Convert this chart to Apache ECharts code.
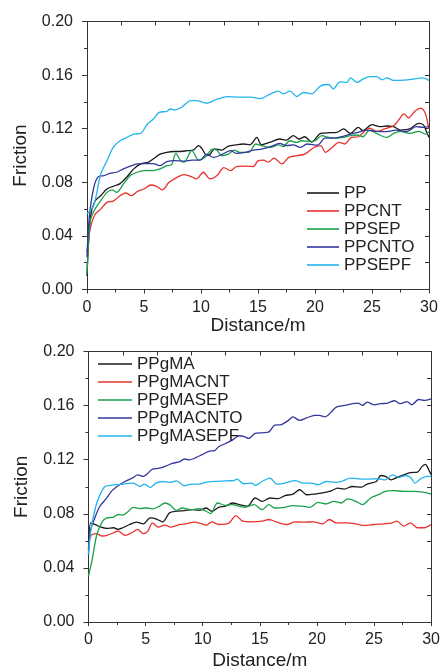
<!DOCTYPE html>
<html>
<head>
<meta charset="utf-8">
<script src="https://cdn.jsdelivr.net/npm/echarts@6/dist/echarts.min.js"></script>
<style>
  html, body { margin: 0; padding: 0; background: #fff; }
  #grafico { width: 443px; height: 671px; }
</style>
</head>
<body>
<div id="grafico"></div>
<script>
// painel de cima
var nomesCima = ['PP', 'PPCNT', 'PPSEP', 'PPCNTO', 'PPSEPF'];
var pp = [[0,0.010],[0.3,0.054],[0.7,0.066],[1.2,0.070],[1.75,0.075],[2.3,0.077],[2.9,0.079],[3.5,0.084],[4.1,0.090],[4.7,0.0937],[5.4,0.095],[5.8,0.0974],[6.4,0.101],[7,0.1024],[7.6,0.103],[8.2,0.103],[8.8,0.1036],[9.3,0.104],[9.8,0.1073],[10.1,0.105],[10.5,0.0999],[10.8,0.101],[11.2,0.105],[11.8,0.104],[12.4,0.107],[13.1,0.108],[13.7,0.1086],[14.3,0.108],[14.9,0.1135],[15.3,0.108],[16.1,0.110],[16.9,0.1123],[17.5,0.1115],[18.1,0.1148],[18.6,0.1123],[19.1,0.114],[19.7,0.110],[20.5,0.1165],[21.3,0.117],[21.9,0.1172],[22.5,0.1198],[23.1,0.1165],[23.8,0.121],[24.2,0.1185],[25,0.123],[25.7,0.1215],[26.3,0.122],[26.9,0.1215],[27.5,0.119],[28.3,0.1198],[29.1,0.124],[29.5,0.123],[29.8,0.1173],[30,0.1135]];
var ppcnt = [[0,0.028],[0.3,0.046],[0.7,0.056],[1.2,0.060],[1.75,0.065],[2.3,0.066],[2.9,0.070],[3.4,0.072],[3.9,0.070],[4.4,0.073],[5,0.075],[5.6,0.078],[6.1,0.077],[6.6,0.0743],[7.2,0.080],[7.9,0.0837],[8.5,0.0857],[9.1,0.0845],[9.6,0.0825],[10.2,0.0875],[10.8,0.0825],[11.4,0.085],[12,0.091],[12.6,0.0887],[13.1,0.0917],[14,0.092],[14.6,0.0918],[15,0.096],[15.5,0.0966],[15.9,0.095],[16.4,0.098],[17.1,0.0937],[17.7,0.0986],[18.4,0.0999],[19.1,0.101],[19.9,0.106],[20.5,0.1073],[20.9,0.1024],[21.5,0.106],[22.1,0.1098],[22.6,0.1086],[23.2,0.1135],[23.8,0.114],[24.4,0.1185],[24.8,0.1205],[25.4,0.118],[26.1,0.1198],[26.9,0.1222],[27.3,0.126],[27.8,0.131],[28.2,0.128],[28.8,0.1334],[29.3,0.1354],[29.7,0.131],[29.9,0.1235],[30,0.1198]];
var ppsep = [[0,0.0117],[0.3,0.0514],[0.7,0.060],[1.2,0.0663],[1.75,0.0725],[2.2,0.0743],[2.6,0.0725],[3.2,0.0788],[3.8,0.085],[4.4,0.0875],[5,0.0887],[5.8,0.0887],[6.4,0.090],[7,0.0924],[7.4,0.093],[7.8,0.1016],[8.2,0.0962],[8.5,0.095],[9.2,0.1036],[9.8,0.0966],[10.4,0.099],[11,0.1048],[11.4,0.104],[11.8,0.0999],[12.4,0.101],[12.9,0.104],[13.4,0.1024],[14.2,0.1024],[14.8,0.1086],[15.3,0.1073],[16.1,0.106],[16.8,0.108],[17.2,0.1066],[17.8,0.111],[18.4,0.1098],[18.8,0.111],[19.4,0.1105],[20,0.111],[20.6,0.1148],[21.2,0.1135],[21.9,0.113],[22.5,0.1135],[23.1,0.1148],[23.7,0.1153],[24.2,0.114],[24.8,0.119],[25.4,0.1165],[26.3,0.1135],[26.9,0.1165],[27.5,0.118],[28.3,0.1165],[29.1,0.118],[29.7,0.116],[30,0.1178]];
var ppcnto = [[0,0.024],[0.2,0.054],[0.6,0.0763],[1,0.0842],[1.5,0.085],[2,0.0867],[2.6,0.0875],[3.2,0.090],[3.8,0.092],[4.4,0.0937],[5,0.094],[5.8,0.094],[6.4,0.0924],[7,0.0954],[7.7,0.0962],[8.5,0.0958],[9.2,0.0966],[9.9,0.0966],[10.5,0.101],[11.1,0.0986],[11.8,0.1006],[12.6,0.1036],[13.1,0.1016],[13.9,0.1024],[14.6,0.104],[15.3,0.1048],[16.1,0.1066],[16.9,0.109],[17.5,0.1073],[18.1,0.108],[18.7,0.106],[19.3,0.1086],[20.2,0.1078],[20.9,0.113],[21.6,0.113],[22.3,0.114],[23.1,0.116],[23.8,0.1173],[24.5,0.119],[25.4,0.118],[26.3,0.1178],[27.1,0.119],[28,0.1178],[28.9,0.1215],[29.5,0.121],[30,0.1215]];
var ppsepf = [[0,0.0564],[0.6,0.063],[1.2,0.086],[1.75,0.096],[2.3,0.106],[2.9,0.111],[3.5,0.1135],[4.1,0.116],[4.7,0.1165],[5.3,0.1235],[5.8,0.127],[6.3,0.132],[7,0.133],[7.3,0.1347],[7.7,0.134],[8.3,0.136],[9.1,0.141],[9.6,0.141],[10.5,0.139],[11.4,0.142],[12.3,0.144],[13.4,0.1435],[14.3,0.1435],[15.2,0.1425],[16.1,0.146],[16.8,0.148],[17.2,0.146],[17.8,0.148],[18.4,0.144],[19,0.147],[19.7,0.146],[20.5,0.152],[21.2,0.153],[21.6,0.1496],[22.2,0.155],[22.8,0.1545],[23.1,0.158],[23.7,0.1545],[24.2,0.157],[24.8,0.1588],[25.4,0.1588],[25.9,0.1565],[26.3,0.158],[26.9,0.156],[27.8,0.1562],[28.6,0.157],[29.4,0.158],[29.8,0.157],[30,0.1558]];

// painel de baixo
var nomesBaixo = ['PPgMA', 'PPgMACNT', 'PPgMASEP', 'PPgMACNTO', 'PPgMASEPF'];
var ppgma = [[0,0.0526],[0.2,0.0733],[0.6,0.072],[1,0.0704],[1.6,0.0692],[2.2,0.0697],[2.6,0.0685],[3,0.0697],[3.6,0.0721],[4.2,0.0738],[4.8,0.0726],[5.4,0.077],[5.9,0.0763],[6.5,0.0741],[7.1,0.0807],[7.7,0.0819],[8.4,0.0824],[9.1,0.0831],[9.7,0.0826],[10.3,0.0843],[10.8,0.0819],[11.4,0.0848],[12,0.0856],[12.6,0.088],[13.2,0.0868],[13.9,0.0856],[14.6,0.0917],[15.2,0.0892],[15.9,0.0917],[16.6,0.0912],[17.2,0.0934],[17.9,0.0946],[18.5,0.0978],[19.1,0.0941],[19.8,0.0946],[20.5,0.0954],[21.3,0.0971],[21.8,0.099],[22.4,0.0983],[23.1,0.1002],[23.9,0.0997],[24.4,0.102],[25.2,0.1039],[25.6,0.1083],[26,0.1076],[26.5,0.1051],[27,0.1068],[27.6,0.1088],[28.2,0.1105],[28.8,0.1108],[29.2,0.1149],[29.5,0.1166],[29.8,0.1125],[30,0.1088]];
var ppgmacnt = [[0,0.055],[0.2,0.0636],[0.7,0.0653],[1.2,0.0636],[1.6,0.064],[2.2,0.066],[2.6,0.0672],[3.2,0.064],[3.8,0.066],[4.3,0.0685],[4.8,0.0653],[5.2,0.0672],[5.6,0.0733],[6.1,0.0702],[6.7,0.0716],[7.2,0.0702],[8,0.0721],[8.5,0.0726],[9.3,0.0738],[9.8,0.0729],[10.3,0.0716],[10.8,0.0741],[11.4,0.0721],[12.3,0.0731],[12.9,0.0787],[13.5,0.0746],[14.3,0.0741],[15.2,0.0746],[15.8,0.0758],[16.5,0.0738],[17.4,0.0721],[18.1,0.0741],[18.8,0.0738],[19.7,0.0741],[20.5,0.0726],[21.1,0.0758],[21.7,0.0733],[22.6,0.0733],[23.4,0.0726],[24.2,0.0714],[25,0.0721],[25.9,0.0726],[26.6,0.0733],[27,0.0746],[27.6,0.0709],[28.2,0.0733],[28.8,0.0697],[29.4,0.0697],[30,0.0721]];
var ppgmasep = [[0,0.0342],[0.3,0.0452],[0.7,0.0636],[1.2,0.0741],[1.6,0.077],[2.2,0.0775],[2.6,0.0795],[3,0.079],[3.5,0.0819],[3.9,0.0848],[4.5,0.0839],[5.1,0.0843],[5.6,0.0836],[6.2,0.0856],[6.7,0.088],[7.1,0.0868],[7.7,0.0826],[8.2,0.0843],[9,0.0831],[9.7,0.0839],[10.3,0.0819],[10.7,0.0802],[11.3,0.088],[12,0.0863],[12.6,0.0868],[13.2,0.0856],[13.7,0.0848],[14.5,0.0868],[15.2,0.0831],[15.8,0.0868],[16.3,0.0843],[17.2,0.0848],[17.9,0.0861],[18.7,0.0856],[19.4,0.0848],[20.1,0.0885],[20.8,0.0873],[21.5,0.0892],[22.1,0.088],[22.7,0.091],[23.4,0.0892],[24,0.0868],[24.7,0.0917],[25.5,0.0946],[26,0.0966],[26.7,0.0971],[27.6,0.0966],[28.5,0.0966],[29.4,0.0958],[30,0.0946]];
var ppgmacnto = [[0,0.050],[0.15,0.067],[0.6,0.078],[1,0.0856],[1.6,0.0917],[2,0.0966],[2.5,0.1002],[3.2,0.1039],[3.9,0.1068],[4.3,0.1088],[4.8,0.1076],[5.2,0.110],[5.6,0.113],[6.2,0.1137],[6.8,0.1154],[7.4,0.1174],[8,0.1186],[8.4,0.1205],[8.8,0.1198],[9.4,0.1215],[10,0.124],[10.6,0.1264],[11,0.1266],[11.4,0.1296],[12,0.132],[12.6,0.1345],[13.2,0.1377],[13.7,0.1369],[14,0.1357],[14.6,0.1394],[15.2,0.1399],[15.8,0.1406],[16.3,0.1455],[16.9,0.146],[17.5,0.1491],[17.9,0.1516],[18.5,0.1491],[19.1,0.1509],[19.8,0.1528],[20.2,0.1528],[20.7,0.1516],[21.3,0.1557],[21.7,0.1589],[22.4,0.1601],[23.1,0.1614],[23.6,0.1619],[24,0.1601],[24.4,0.1626],[25,0.1606],[25.6,0.1614],[26.2,0.1619],[26.8,0.1636],[27.3,0.1614],[27.9,0.163],[28.3,0.1606],[28.9,0.1645],[29.4,0.1638],[30,0.165]];
var ppgmasepf = [[0,0.050],[0.2,0.067],[0.6,0.0843],[1,0.094],[1.45,0.1002],[1.9,0.101],[2.5,0.1015],[3.2,0.1022],[3.9,0.1027],[4.5,0.1002],[4.9,0.102],[5.4,0.0995],[5.9,0.1027],[6.5,0.1039],[7.1,0.1032],[7.7,0.1044],[8.4,0.1007],[9,0.102],[9.7,0.102],[10.3,0.1034],[11.1,0.1039],[12,0.1044],[12.7,0.1046],[13,0.1056],[13.6,0.1022],[14.3,0.1027],[14.6,0.101],[15.2,0.1039],[15.9,0.1064],[16.5,0.102],[17.2,0.1027],[18.1,0.1046],[18.8,0.1027],[19.5,0.1027],[20.1,0.1015],[20.8,0.1039],[21.6,0.1032],[22.3,0.1044],[22.9,0.1064],[23.6,0.1059],[24.4,0.1056],[25.3,0.1059],[26,0.1051],[26.6,0.1088],[27.2,0.107],[27.8,0.1083],[28.2,0.1068],[28.6,0.1027],[29.1,0.1059],[29.7,0.1076],[30,0.1076]];

var cores = ['#1a1a1a', '#e8332e', '#18a04a', '#33389e', '#22b4ec'];

var chartDom = document.getElementById('grafico');
var myChart = echarts.init(chartDom);
var option;

var fonte = 'Liberation Sans, Arial, sans-serif';

function eixoX(grid, gap) {
  return {
    type: 'value', gridIndex: grid, min: 0, max: 30, interval: 5,
    name: 'Distance/m', nameLocation: 'middle', nameGap: gap,
    nameTextStyle: { fontSize: 19, color: '#222', fontFamily: fonte },
    axisLine: { show: true, onZero: false, lineStyle: { color: '#333', width: 1 } },
    axisTick: { show: true, length: 4, lineStyle: { color: '#333' } },
    minorTick: { show: true, splitNumber: 2, length: 3, lineStyle: { color: '#333' } },
    axisLabel: { fontSize: 16, color: '#222', fontFamily: fonte, margin: 10 },
    splitLine: { show: false }
  };
}
function eixoXTopo(grid) {
  return {
    type: 'value', gridIndex: grid, position: 'top', min: 0, max: 30, interval: 3,
    axisLine: { show: true, onZero: false, lineStyle: { color: '#333', width: 1 } },
    axisTick: { show: true, inside: true, length: 4, lineStyle: { color: '#333' } },
    axisLabel: { show: false },
    splitLine: { show: false }
  };
}
function eixoY(grid) {
  return {
    type: 'value', gridIndex: grid, min: 0, max: 0.2, interval: 0.04,
    name: 'Friction', nameLocation: 'middle', nameGap: 57,
    nameTextStyle: { fontSize: 19, color: '#222', fontFamily: fonte },
    axisLine: { show: true, onZero: false, lineStyle: { color: '#333', width: 1 } },
    axisTick: { show: true, length: 5, lineStyle: { color: '#333' } },
    minorTick: { show: true, splitNumber: 2, length: 3, lineStyle: { color: '#333' } },
    axisLabel: { fontSize: 16, color: '#222', fontFamily: fonte, margin: 14,
      formatter: function (v) { return v.toFixed(2); } },
    splitLine: { show: false }
  };
}
function eixoYDireita(grid) {
  return {
    type: 'value', gridIndex: grid, position: 'right', min: 0, max: 0.2, interval: 0.02,
    axisLine: { show: true, onZero: false, lineStyle: { color: '#333', width: 1 } },
    axisTick: { show: true, inside: true, length: 4, lineStyle: { color: '#333' } },
    axisLabel: { show: false },
    splitLine: { show: false }
  };
}
function serie(nome, dados, cor, eixo) {
  return {
    name: nome, type: 'line', data: dados,
    xAxisIndex: eixo, yAxisIndex: eixo,
    symbol: 'none', smooth: 0.3,
    lineStyle: { color: cor, width: 1.3 },
    itemStyle: { color: cor }
  };
}
function legenda(nomes, esq, topo, largura) {
  return {
    data: nomes, orient: 'vertical', left: esq, top: topo,
    icon: 'rect', itemWidth: largura, itemHeight: 1.6, itemGap: 1, padding: 0,
    textStyle: { fontSize: 17, color: '#222', fontFamily: fonte, lineHeight: 17 }
  };
}

option = {
  animation: false,
  backgroundColor: '#fff',
  grid: [
    { left: 87, top: 21.5, width: 342, height: 268 },
    { left: 88.5, top: 351.5, width: 345.5, height: 271.5 }
  ],
  xAxis: [eixoX(0, 27), eixoX(1, 29), eixoXTopo(0), eixoXTopo(1)],
  yAxis: [eixoY(0), eixoY(1), eixoYDireita(0), eixoYDireita(1)],
  legend: [
    legenda(nomesCima, 307, 184.5, 32),
    legenda(nomesBaixo, 98, 355.5, 34)
  ],
  series: [
    serie('PP', pp, cores[0], 0),
    serie('PPCNT', ppcnt, cores[1], 0),
    serie('PPSEP', ppsep, cores[2], 0),
    serie('PPCNTO', ppcnto, cores[3], 0),
    serie('PPSEPF', ppsepf, cores[4], 0),
    serie('PPgMA', ppgma, cores[0], 1),
    serie('PPgMACNT', ppgmacnt, cores[1], 1),
    serie('PPgMASEP', ppgmasep, cores[2], 1),
    serie('PPgMACNTO', ppgmacnto, cores[3], 1),
    serie('PPgMASEPF', ppgmasepf, cores[4], 1)
  ]
};

option && myChart.setOption(option);
</script>
</body>
</html>
